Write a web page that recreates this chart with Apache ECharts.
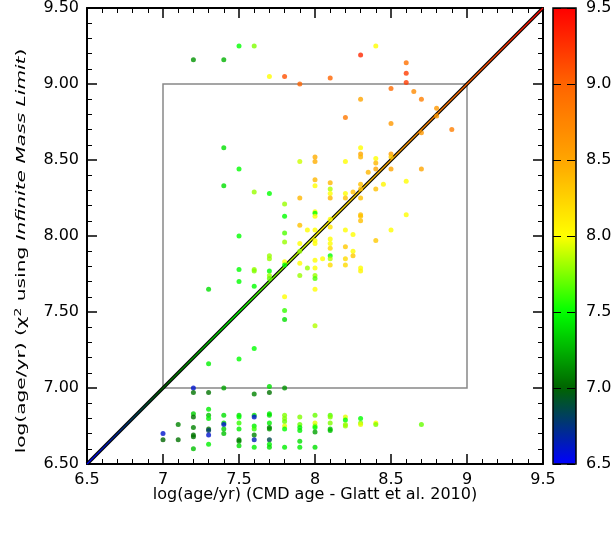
<!DOCTYPE html>
<html>
<head>
<meta charset="utf-8">
<script src="https://cdn.jsdelivr.net/npm/echarts@6/dist/echarts.min.js"></script>
<style>
html, body { margin: 0; padding: 0; background: #fff; }
#chart { width: 615px; height: 533px; }
</style>
</head>
<body>
<div id="chart"></div>
<script>
// each point: [CMD age, chi2 age, colour value]
var upperPoints = [
    [7.5, 9.25, 7.5], [7.6, 9.25, 7.75], [7.2, 9.16, 7.15], [7.4, 9.16, 7.25],
    [7.7, 9.05, 8.0], [7.8, 9.05, 9.1], [7.9, 9.00, 9.0], [8.4, 9.25, 8.0],
    [8.3, 9.19, 9.3], [8.6, 9.14, 8.9], [8.6, 9.07, 9.2], [8.6, 9.01, 9.2],
    [8.1, 9.04, 9.0], [8.5, 8.97, 8.95], [8.65, 8.95, 8.7], [8.7, 8.90, 8.8],
    [8.3, 8.90, 8.5], [8.8, 8.84, 8.6], [8.8, 8.79, 8.6], [8.2, 8.78, 8.85],
    [8.5, 8.74, 8.6], [8.9, 8.70, 8.8], [8.7, 8.68, 8.6], [7.4, 8.58, 7.4],
    [8.3, 8.58, 8.0], [8.3, 8.54, 8.5], [8.3, 8.52, 8.4], [8.5, 8.54, 8.55],
    [8.5, 8.52, 8.3], [8.4, 8.51, 8.0], [8.4, 8.48, 8.4], [7.9, 8.49, 7.9],
    [8.0, 8.52, 8.45], [8.0, 8.49, 8.45], [8.2, 8.49, 8.0], [7.5, 8.44, 7.5],
    [8.35, 8.42, 8.4], [8.4, 8.44, 8.5], [8.5, 8.44, 8.5], [8.7, 8.44, 8.5],
    [8.0, 8.37, 8.4], [8.0, 8.33, 8.0], [8.1, 8.35, 8.4], [8.1, 8.31, 7.85],
    [8.1, 8.28, 8.0], [8.1, 8.25, 8.4], [7.6, 8.29, 7.8], [7.7, 8.28, 7.5],
    [7.9, 8.25, 8.4], [7.8, 8.21, 7.8], [8.2, 8.28, 8.0], [8.2, 8.25, 8.35],
    [8.25, 8.29, 8.35], [7.4, 8.33, 7.4], [8.3, 8.34, 8.35], [8.3, 8.31, 8.35],
    [8.3, 8.25, 8.35], [8.4, 8.31, 8.35], [8.45, 8.34, 8.05], [8.6, 8.36, 8.0]
];
var middlePoints = [
    [7.8, 8.13, 7.5], [8.0, 8.16, 8.0], [8.0, 8.15, 7.5], [8.0, 8.13, 8.0],
    [7.9, 8.07, 8.35], [7.95, 8.04, 8.0], [8.0, 8.04, 8.0], [7.5, 8.00, 7.5],
    [7.8, 8.02, 7.65], [7.8, 7.96, 7.8], [7.9, 7.95, 8.0], [7.9, 7.90, 7.8],
    [8.0, 7.97, 8.0], [8.0, 7.95, 8.0], [7.7, 7.87, 7.8], [7.7, 7.85, 7.8],
    [7.8, 7.83, 8.0], [7.8, 7.81, 7.5], [7.9, 7.82, 8.0], [7.95, 7.79, 7.8],
    [8.0, 7.84, 8.0], [8.0, 7.79, 8.0], [7.5, 7.78, 7.5], [7.6, 7.78, 7.8],
    [7.6, 7.77, 7.75], [7.7, 7.77, 7.5], [7.7, 7.74, 7.8], [7.7, 7.72, 7.7],
    [7.9, 7.74, 7.8], [8.0, 7.74, 7.8], [8.0, 7.72, 7.65], [7.5, 7.70, 7.5],
    [7.6, 7.67, 7.5], [7.3, 7.65, 7.4], [8.0, 7.65, 8.0], [7.8, 7.60, 8.0],
    [7.8, 7.51, 7.6], [7.8, 7.45, 7.4], [8.0, 7.41, 7.85], [7.6, 7.26, 7.5],
    [7.3, 7.16, 7.45], [7.5, 7.19, 7.5],
    [8.1, 8.11, 8.0], [8.1, 8.06, 8.15], [8.3, 8.14, 8.35], [8.3, 8.13, 8.35],
    [8.3, 8.10, 8.35], [8.6, 8.14, 8.0], [8.2, 8.04, 8.0], [8.25, 8.01, 8.0],
    [8.5, 8.04, 8.0], [8.4, 7.97, 8.3], [8.1, 7.98, 8.0], [8.1, 7.95, 8.0],
    [8.1, 7.92, 8.2], [8.2, 7.93, 8.3], [8.25, 7.90, 8.0], [8.25, 7.87, 8.3],
    [8.05, 7.85, 8.0], [8.1, 7.87, 7.5], [8.1, 7.85, 7.85], [8.1, 7.81, 8.2],
    [8.2, 7.85, 8.2], [8.2, 7.81, 8.2], [8.3, 7.79, 8.0], [8.3, 7.77, 8.05]
];
var nearSevenPoints = [
    [7.2, 7.00, 6.6], [7.2, 6.97, 7.05], [7.3, 6.97, 7.05], [7.4, 7.00, 7.2],
    [7.6, 6.96, 7.1], [7.7, 7.01, 7.4], [7.7, 6.97, 7.05], [7.8, 7.00, 7.15]
];
var bottomPoints = [
    [7.0, 6.70, 6.6], [7.0, 6.66, 7.0], [7.1, 6.76, 7.1], [7.1, 6.66, 7.05],
    [7.2, 6.83, 7.35], [7.2, 6.81, 7.05], [7.2, 6.74, 7.1], [7.2, 6.69, 7.05],
    [7.2, 6.68, 7.05], [7.2, 6.60, 7.3],
    [7.3, 6.86, 7.45], [7.3, 6.82, 7.3], [7.3, 6.80, 7.45], [7.3, 6.73, 7.05],
    [7.3, 6.72, 6.8], [7.3, 6.69, 6.6], [7.3, 6.63, 7.45],
    [7.4, 6.82, 7.4], [7.4, 6.77, 7.35], [7.4, 6.76, 6.6], [7.4, 6.73, 7.35],
    [7.4, 6.70, 7.3],
    [7.5, 6.82, 7.4], [7.5, 6.81, 7.5], [7.5, 6.77, 7.6], [7.5, 6.73, 7.45],
    [7.5, 6.66, 7.1], [7.5, 6.65, 7.1], [7.5, 6.62, 7.4],
    [7.6, 6.82, 7.4], [7.6, 6.81, 6.6], [7.6, 6.75, 7.45], [7.6, 6.73, 7.6],
    [7.6, 6.69, 7.1], [7.6, 6.66, 6.65], [7.6, 6.61, 7.45],
    [7.7, 6.83, 7.45], [7.7, 6.82, 7.4], [7.7, 6.77, 7.45], [7.7, 6.74, 7.1],
    [7.7, 6.73, 7.15], [7.7, 6.66, 6.85], [7.7, 6.63, 7.45], [7.7, 6.61, 7.4],
    [7.8, 6.82, 7.75], [7.8, 6.80, 7.75], [7.8, 6.78, 7.7], [7.8, 6.75, 7.95],
    [7.8, 6.73, 7.5], [7.8, 6.61, 7.45],
    [7.9, 6.81, 7.75], [7.9, 6.76, 7.7], [7.9, 6.74, 7.45], [7.9, 6.72, 7.45],
    [7.9, 6.65, 7.4], [7.9, 6.61, 7.45],
    [8.0, 6.82, 7.7], [8.0, 6.77, 7.95], [8.0, 6.75, 7.75], [8.0, 6.74, 7.5],
    [8.0, 6.71, 7.2], [8.0, 6.61, 7.4],
    [8.1, 6.82, 7.65], [8.1, 6.81, 7.75], [8.1, 6.77, 7.75], [8.1, 6.73, 7.3],
    [8.1, 6.72, 7.3],
    [8.2, 6.81, 7.95], [8.2, 6.79, 7.5], [8.2, 6.76, 7.8], [8.2, 6.75, 7.8],
    [8.3, 6.80, 7.5], [8.3, 6.77, 7.75], [8.3, 6.76, 7.95],
    [8.4, 6.77, 8.0], [8.4, 6.76, 7.75], [8.7, 6.76, 7.7]
];
var oneToOne = [[6.5, 6.5], [9.5, 9.5]];
var boxCorners = [[7, 7], [9, 9]];
var scaleMin = 6.5, scaleMax = 9.5;
var scaleColours = ['#0000ff', '#006400', '#00ff00', '#ffff00', '#ffa500', '#ff6400', '#ff0000'];

var font = 'DejaVu Sans, sans-serif';
var gradStops = scaleColours.map(function(c, i) {
    return { offset: i / (scaleColours.length - 1), color: c };
});

function frameAxis(pos, labels) {
    return {
        type: 'value', position: pos, min: scaleMin, max: scaleMax, interval: 0.5,
        axisLine: { show: true, onZero: false, lineStyle: { color: '#000', width: 2 } },
        axisTick: { show: true, inside: true, length: 10, lineStyle: { color: '#000', width: 1.5 } },
        minorTick: { show: true, splitNumber: 5, length: 5, lineStyle: { color: '#000', width: 1 } },
        splitLine: { show: false },
        axisLabel: { show: labels, color: '#000', fontFamily: font, fontSize: 16, margin: 8 }
    };
}

var xBottom = frameAxis('bottom', true);
xBottom.name = 'log(age/yr) (CMD age - Glatt et al. 2010)';
xBottom.nameLocation = 'middle';
xBottom.nameGap = 23;
xBottom.nameMoveOverlap = false;
xBottom.nameTextStyle = { color: '#000', fontFamily: font, fontSize: 16, verticalAlign: 'top' };
var xTop = frameAxis('top', false);

var yLeft = frameAxis('left', true);
yLeft.axisLabel.formatter = function(v) { return v.toFixed(2); };
var yRight = frameAxis('right', false);

var chart = echarts.init(document.getElementById('chart'));
var option = {
    animation: false,
    backgroundColor: '#fff',
    grid: [
        { left: 87, right: 72, top: 8, bottom: 69 },
        { left: 553, width: 23, top: 8, height: 456, show: true, backgroundColor: 'transparent',
          borderColor: '#000', borderWidth: 1.5, z: 10 }
    ],
    xAxis: [xBottom, xTop,
        { gridIndex: 1, type: 'value', min: 0, max: 1, show: false }],
    yAxis: [yLeft, yRight,
        { gridIndex: 1, type: 'value', position: 'right', min: scaleMin, max: scaleMax, interval: 0.5, z: 10,
          axisLine: { show: false }, axisTick: { show: false },
          splitLine: { show: true, lineStyle: { color: '#000', width: 1.2, type: [8, 6] } },
          axisLabel: { color: '#000', fontFamily: font, fontSize: 16, margin: 10,
                       formatter: function(v) { return v.toFixed(1); } } }],
    visualMap: {
        type: 'continuous', min: scaleMin, max: scaleMax, dimension: 2,
        seriesIndex: [2, 3, 4, 5], calculable: false, text: null, showLabel: false,
        itemWidth: 23, itemHeight: 456, left: 548, top: 3, padding: 5,
        inRange: { color: scaleColours }
    },
    graphic: [{
        type: 'text', x: 22, y: 251, rotation: Math.PI / 2, scaleX: 1.55,
        style: {
            text: '{a|log(age/yr) (\u03c7}{s|2}{a| using }{i|Infinite Mass Limit}{a|)}',
            align: 'center', verticalAlign: 'middle',
            rich: {
                a: { fontFamily: font, fontSize: 13, fill: '#000' },
                i: { fontFamily: font, fontSize: 13, fill: '#000', fontStyle: 'italic' },
                s: { fontFamily: font, fontSize: 9, fill: '#000', padding: [0, 0, 7, 0] }
            }
        }
    }],
    series: [
        { type: 'line', data: oneToOne, symbol: 'none', silent: true, z: 1,
          lineStyle: { color: '#000', width: 3.5 },
          markArea: { silent: true, itemStyle: { color: 'rgba(0,0,0,0)', borderColor: '#888', borderWidth: 1.5 },
                      data: [[{ coord: boxCorners[0] }, { coord: boxCorners[1] }]] } },
        { type: 'line', data: oneToOne, symbol: 'none', silent: true, z: 2,
          lineStyle: { color: new echarts.graphic.LinearGradient(0, 1, 0, 0, gradStops), width: 1.3 } },
        { type: 'scatter', data: upperPoints, symbolSize: 5, z: 3 },
        { type: 'scatter', data: middlePoints, symbolSize: 5, z: 3 },
        { type: 'scatter', data: nearSevenPoints, symbolSize: 5, z: 3 },
        { type: 'scatter', data: bottomPoints, symbolSize: 5, z: 3 }
    ]
};
chart.setOption(option);
</script>
</body>
</html>
